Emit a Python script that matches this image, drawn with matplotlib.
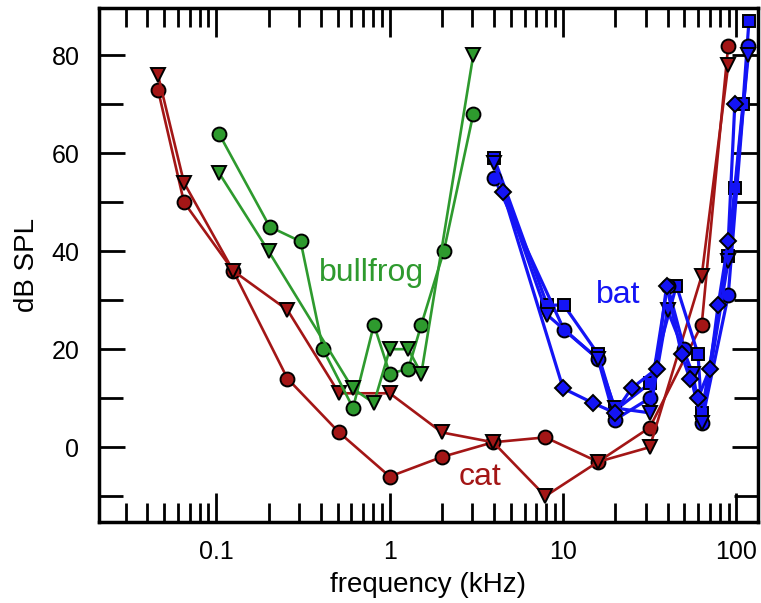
import numpy as np
import matplotlib
matplotlib.use("Agg")
import matplotlib.pyplot as plt
from matplotlib.ticker import LogLocator, FixedLocator, NullFormatter, FixedFormatter

plt.rcParams['font.family'] = ['Liberation Sans', 'DejaVu Sans']

# cat (two threshold curves)
cat_circ_f = [0.046, 0.065, 0.125, 0.257, 0.51, 1.0, 2.0, 3.95, 7.9, 15.9, 31.6, 63, 89.6]
cat_circ_db = [73, 50, 36, 14, 3, -6, -2, 1, 2, -3, 4, 25, 82]
cat_tri_f = [0.046, 0.065, 0.125, 0.257, 0.51, 1.0, 2.0, 3.95, 7.9, 15.9, 31.6, 63, 89.6]
cat_tri_db = [76, 54, 36, 28, 11, 11, 3, 1, -10, -3, 0, 35, 78]

# bullfrog
frog_circ_f = [0.1035, 0.203, 0.306, 0.412, 0.614, 0.81, 1.0, 1.28, 1.52, 2.05, 3.03]
frog_circ_db = [64, 45, 42, 20, 8, 25, 15, 16, 25, 40, 68]
frog_tri_f = [0.1035, 0.2, 0.61, 0.81, 1.0, 1.28, 1.52, 3.03]
frog_tri_db = [56, 40, 12, 9, 20, 20, 15, 80]

# bat (four curves)
bat_sq_f = [4.0, 8.1, 10.1, 15.9, 19.9, 31.6, 45, 60, 63, 89.6, 97.8, 109, 118]
bat_sq_db = [59, 29, 29, 19, 7.5, 13, 33, 19, 7, 39, 53, 70, 87]
bat_circ_f = [4.0, 10.1, 15.9, 19.9, 31.6, 40, 50, 63, 89.6, 117]
bat_circ_db = [55, 24, 18, 5.6, 10, 33, 20, 5, 31, 82]
bat_tri_f = [4.0, 8.1, 15.9, 19.9, 31.6, 40, 56, 63, 89.6, 117]
bat_tri_db = [58, 27, 18, 8, 7, 28, 15, 5, 38, 80]
bat_dia_f = [4.5, 10.0, 14.9, 19.9, 24.8, 34.6, 39.5, 48.2, 53.8, 60, 70.2, 78.4, 89.6, 97.8]
bat_dia_db = [52, 12, 9, 7, 12, 16, 33, 19, 14, 10, 16, 29, 42, 70]

red = '#a31616'
green = '#2e9a2e'
blue = '#1414f5'

fig = plt.figure(figsize=(7.61, 6.03), dpi=100)
ax = fig.add_axes([0.130, 0.135, 0.866, 0.852])

kw = dict(mec='black', mew=1.4)
ax.plot(cat_circ_f, cat_circ_db, '-o', color=red, mfc=red, ms=10, lw=1.9, **kw)
ax.plot(cat_tri_f, cat_tri_db, '-v', color=red, mfc=red, ms=10, lw=1.9, **kw)
ax.plot(frog_circ_f, frog_circ_db, '-o', color=green, mfc=green, ms=10, lw=1.9, **kw)
ax.plot(frog_tri_f, frog_tri_db, '-v', color=green, mfc=green, ms=10, lw=1.9, **kw)
ax.plot(bat_sq_f, bat_sq_db, '-s', color=blue, mfc=blue, ms=9, lw=2.3, **kw)
ax.plot(bat_circ_f, bat_circ_db, '-o', color=blue, mfc=blue, ms=10, lw=2.3, **kw)
ax.plot(bat_tri_f, bat_tri_db, '-v', color=blue, mfc=blue, ms=10, lw=2.3, **kw)
ax.plot(bat_dia_f, bat_dia_db, '-D', color=blue, mfc=blue, ms=8, lw=2.3, **kw)

ax.text(0.78, 35.5, 'bullfrog', color=green, fontsize=23, ha='center', va='center')
ax.text(20.8, 31, 'bat', color=blue, fontsize=23, ha='center', va='center')
ax.text(3.3, -6, 'cat', color=red, fontsize=23, ha='center', va='center')

ax.set_xscale('log')
ax.set_xlim(0.021, 133)
ax.set_ylim(-15.2, 89.7)

ax.xaxis.set_major_locator(FixedLocator([0.1, 1, 10, 100]))
ax.xaxis.set_major_formatter(FixedFormatter(['0.1', '1', '10', '100']))
ax.xaxis.set_minor_locator(LogLocator(base=10, subs=np.arange(2, 10)))
ax.xaxis.set_minor_formatter(NullFormatter())
ax.set_yticks([0, 20, 40, 60, 80])
ax.set_yticks([-10, 10, 30, 50, 70], minor=True)

ax.tick_params(which='both', direction='in', top=True, right=True,
               width=2, labelsize=18, colors='black')
ax.tick_params(axis='x', which='major', length=21, pad=13)
ax.tick_params(axis='x', which='minor', length=14)
ax.tick_params(axis='y', which='major', length=19, pad=14)
ax.tick_params(axis='y', which='minor', length=17)
for s in ax.spines.values():
    s.set_linewidth(2.5)

ax.set_xlabel('frequency (kHz)', fontsize=20, labelpad=6)
ax.set_ylabel('dB SPL', fontsize=20, labelpad=8)

fig.savefig('out.png', dpi=100)
